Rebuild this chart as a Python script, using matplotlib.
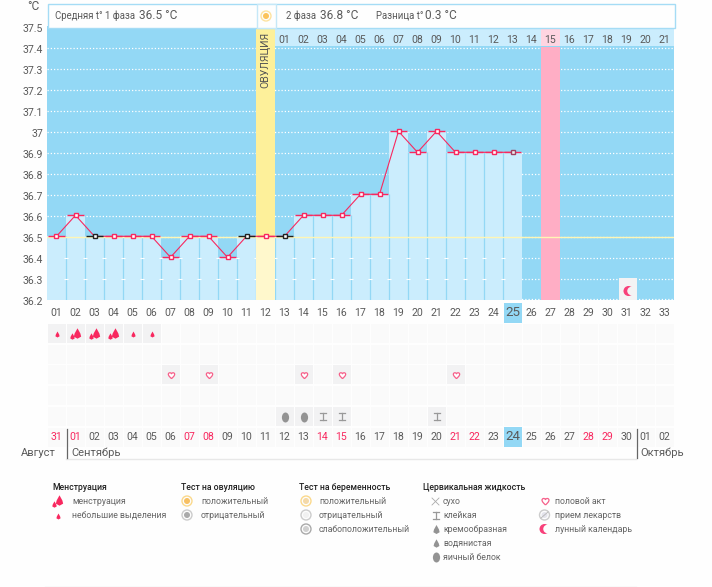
import numpy as np
import matplotlib
matplotlib.use('Agg')
import matplotlib.pyplot as plt
from matplotlib.patches import Rectangle, Circle
from matplotlib.path import Path
from matplotlib.transforms import Affine2D

plt.rcParams['font.family'] = ['Roboto', 'DejaVu Sans']

# chart values
temps = [36.5, 36.6, 36.5, 36.5, 36.5, 36.5, 36.4, 36.5, 36.5, 36.4, 36.5, 36.5, 36.5,
         36.6, 36.6, 36.6, 36.7, 36.7, 37.0, 36.9, 37.0, 36.9, 36.9, 36.9, 36.9]
days = np.arange(1, len(temps) + 1)
black_days = [3, 11, 13]
gray_days = [25]
y_ticks = [36.2, 36.3, 36.4, 36.5, 36.6, 36.7, 36.8, 36.9, 37.0, 37.1, 37.2, 37.3, 37.4, 37.5]
y_labels = ['36.2', '36.3', '36.4', '36.5', '36.6', '36.7', '36.8', '36.9', '37', '37.1',
            '37.2', '37.3', '37.4', '37.5']
ovulation_day = 12
period_day = 27
today = 25
phase2_labels = ['%02d' % d for d in range(1, 22)]
cycle_labels = ['%02d' % d for d in range(1, 34)]
date_labels = ['31'] + ['%02d' % d for d in range(1, 31)] + ['01', '02']
red_dates = [1, 2, 8, 9, 15, 16, 22, 23, 29, 30]   # column index from 1

# symbol table: day -> row
heavy_days = [2, 3, 4]
light_days = [1, 5, 6]
heart_days = [7, 9, 14, 16, 22]
egg_days = [13, 14]
sticky_days = [15, 16, 21]
moon_day = 31

legend_groups = [
    (52, 'Менструация', ['менструация', 'небольшие выделения']),
    (181, 'Тест на овуляцию', ['положительный', 'отрицательный']),
    (299, 'Тест на беременность', ['положительный', 'отрицательный', 'слабоположительный']),
    (423, 'Цервикальная жидкость', ['сухо', 'клейкая', 'кремообразная', 'водянистая', 'яичный белок']),
]
legend_misc = ['половой акт', 'прием лекарств', 'лунный календарь']

TEXT = '#5a5a5a'
PINK = '#f8285f'
SKY = '#93d8f5'
PALE = '#cbedfd'

W, H = 712, 587
fig = plt.figure(figsize=(W / 100, H / 100), dpi=100, facecolor='#fefefe')

# main axes: 33 columns of 19 px, 21 px per 0.1 degree
x0, x1 = 47.0, 674.0
y_top, y_bot = 26.3, 300.35
y_min = 36.195
ax = fig.add_axes([x0 / W, 1 - y_bot / H, (x1 - x0) / W, (y_bot - y_top) / H])
ax.set_xlim(0.5, 33.5)
ax.set_ylim(y_min, 37.5)
ax.set_facecolor(SKY)
for s in ax.spines.values():
    s.set_visible(False)
ax.set_xticks([])
ax.set_yticks([])

# grid sits one pixel below the marks
shift = 0.005
for t in y_ticks[1:-1]:
    ax.axhline(t - shift, color='white', lw=0.9, ls=(0, (1, 1.6)), zorder=1)
ax.axhline(36.2, color='white', lw=0.9, ls=(0, (1, 1.6)), zorder=1)

# temperature columns
ax.bar(days, np.array(temps) - y_min, bottom=y_min, width=1.0, color=PALE, zorder=2)
gaps = np.arange(1.5, 25)
ax.vlines(gaps, y_min, np.minimum(temps[:-1], temps[1:]), color=SKY, lw=0.9, zorder=2.5)
for t in y_ticks[1:3]:
    ax.plot(gaps, [t - shift] * len(gaps), ls='none', marker='_', ms=2.5, mew=0.8, color='white', zorder=2.6)

# ovulation and cycle-day stripes
ax.bar(ovulation_day, 37.5 - y_min, bottom=y_min, width=0.95, color='#fdf09a', zorder=3)
ax.bar(ovulation_day, 36.5 - y_min, bottom=y_min, width=0.95, color='#fff8cc', zorder=3.1)
ax.bar(period_day, 37.4 - y_min, bottom=y_min, width=0.95, color='#ffaec5', zorder=3)

# 36.5 line in pale yellow
ax.axhline(36.5 - shift, color='#fff6b5', lw=1, zorder=3.5)

# phase 2 numbers row
ax.bar(np.arange(13, 34), 0.096, bottom=37.404, width=0.95, color=PALE, zorder=2)
ax.bar(period_day, 0.096, bottom=37.404, width=0.95, color='#ffd5e1', zorder=3)
for i, lab in enumerate(phase2_labels):
    ax.text(13 + i, 37.437, lab, ha='center', va='center', fontsize=7.6, color=TEXT, zorder=6)

ax.text(ovulation_day, 37.341, 'ОВУЛЯЦИЯ', rotation=90, ha='center', va='center',
        fontsize=7.6, color='#555555', zorder=6)

# temperature line and markers
ax.plot(days, temps, color=PINK, lw=0.8, zorder=5)
for d, t in zip(days, temps):
    dash = '#222222' if d in black_days else PINK
    edge = '#a04060' if d in gray_days else dash
    face = '#eeeeee' if d in gray_days else 'white'
    ax.hlines(t, d - 0.45, d + 0.45, color=dash, lw=1.0, zorder=5.2)
    ax.plot([d], [t], 's', ms=3.4, mfc=face, mec=edge, mew=1.0, zorder=5.5)

# moon cell on the chart
ax.bar(moon_day + 0.08, 36.3 - y_min, bottom=y_min, width=0.95, color='#f4f3f4', zorder=3)

# overlay in pixels for everything around the plot
ov = fig.add_axes([0, 0, 1, 1], zorder=10)
ov.set_xlim(0, W)
ov.set_ylim(H, 0)
ov.axis('off')


def col_x(d):
    return x0 + 19 * (d - 0.5)


drop = Path([(0, 1), (0.55, 0), (0.7, -0.6), (0, -1), (-0.7, -0.6), (-0.55, 0), (0, 1)],
            [1, 2, 2, 2, 2, 2, 79])
egg = Path.unit_circle().transformed(Affine2D().scale(0.72, 1))
heart = Path([(0, -1), (-0.5, -0.5), (-1, -0.1), (-1, 0.4), (-1, 0.9), (-0.3, 1.1), (0, 0.55),
              (0.3, 1.1), (1, 0.9), (1, 0.4), (1, -0.1), (0.5, -0.5), (0, -1)],
             [1, 4, 4, 4, 4, 4, 4, 4, 4, 4, 4, 4, 4])


def draw_drop(x, y, size=4.3, color=PINK):
    ov.plot([x], [y], marker=drop, ms=size, color=color, mew=0, zorder=12)


def draw_heavy(x, y):
    draw_drop(x + 1, y - 1, 7.5)
    draw_drop(x - 3.3, y + 2.5, 4.6)


def draw_heart(x, y, size=5):
    ov.plot([x], [y], marker=heart, ms=size, mfc='white', mec='#f6608a', mew=0.9, zorder=12)


def draw_sticky(x, y):
    ov.plot([x - 3, x + 3], [y - 3.5, y - 3.5], color='#999999', lw=0.9, zorder=12)
    ov.plot([x - 3, x + 3], [y + 3.5, y + 3.5], color='#999999', lw=0.9, zorder=12)
    ov.plot([x, x], [y - 3.5, y + 3.5], color='#999999', lw=0.9, zorder=12)


def draw_egg(x, y, size=7.2):
    ov.plot([x], [y], marker=egg, ms=size, color='#939393', mew=0, zorder=12)


def draw_moon(x, y, r=5, bg='#f4f3f4'):
    ov.add_patch(Circle((x, y), r, fc='#f8407a', ec='none', zorder=12))
    ov.add_patch(Circle((x + r * 0.6, y), r * 0.85, fc=bg, ec='none', zorder=12.5))


def draw_target(x, y, outer, inner, r=5):
    ov.add_patch(Circle((x, y), r, fc='#fdfdfd', ec=outer, lw=1, zorder=12))
    ov.add_patch(Circle((x, y), r * 0.6, fc=inner, ec='none', zorder=12.5))


# y labels and unit
for t, lab in zip(y_ticks, y_labels):
    py = 300.3 - (t - 36.2) * 210 + 2
    ov.text(43, py, lab, ha='right', va='center', fontsize=7.6, color=TEXT)
ov.text(40, 7, '°C', ha='right', va='center', fontsize=8.6, color=TEXT)

# top info strip
ov.add_patch(Rectangle((47.5, 3.5), 627, 24, fc='#fefefe', ec='#a5dcf5', lw=1, zorder=2))
ov.add_patch(Rectangle((256.5, 3.5), 19, 24, fc='#fefefe', ec='#c5e8f8', lw=1, zorder=3))
draw_target(266, 16, '#fde3a0', '#fbc35c', 5)
ov.text(55, 16, 'Средняя t° 1 фаза', ha='left', va='center', fontsize=6.9, color=TEXT, zorder=4)
ov.text(139, 15.5, '36.5 °C', ha='left', va='center', fontsize=8.6, color=TEXT, zorder=4)
ov.text(286, 16, '2 фаза', ha='left', va='center', fontsize=6.9, color=TEXT, zorder=4)
ov.text(320, 15.5, '36.8 °C', ha='left', va='center', fontsize=8.6, color=TEXT, zorder=4)
ov.text(376.5, 16, 'Разница t°', ha='left', va='center', fontsize=6.9, color=TEXT, zorder=4)
ov.text(425, 15.5, '0.3 °C', ha='left', va='center', fontsize=8.6, color=TEXT, zorder=4)

# cycle day row
for i, lab in enumerate(cycle_labels):
    d = i + 1
    if d == today:
        ov.add_patch(Rectangle((col_x(d) - 9, 303), 18, 20, fc=SKY, ec='none', zorder=2))
    ov.text(col_x(d), 313, lab, ha='center', va='center', color=TEXT,
            fontsize=9.6 if d == today else 7.6, zorder=4)

# symbol table cells
row_tops = [324, 344.7, 365, 386, 407]
row_h = 19
for r in row_tops:
    for d in range(1, 34):
        ov.add_patch(Rectangle((col_x(d) - 9, r), 18, row_h, fc='#fafafa', ec='none', zorder=2))


def mark_cell(d, r):
    ov.add_patch(Rectangle((col_x(d) - 9, row_tops[r]), 18, row_h, fc='#f2f2f3', ec='none', zorder=3))
    return col_x(d), row_tops[r] + row_h / 2


for d in heavy_days:
    px, py = mark_cell(d, 0)
    draw_heavy(px, py)
for d in light_days:
    px, py = mark_cell(d, 0)
    draw_drop(px, py)
for d in heart_days:
    px, py = mark_cell(d, 2)
    draw_heart(px, py)
for d in egg_days:
    px, py = mark_cell(d, 4)
    draw_egg(px, py)
for d in sticky_days:
    px, py = mark_cell(d, 4)
    draw_sticky(px, py)

# moon over the chart cell
draw_moon(628.5, 291, 5)

# calendar row
for i, lab in enumerate(date_labels):
    d = i + 1
    if d == today:
        ov.add_patch(Rectangle((col_x(d) - 9, 427), 18, 19.5, fc=SKY, ec='none', zorder=2))
    else:
        ov.add_patch(Rectangle((col_x(d) - 9, 428), 18, 19, fc='#fafafa', ec='none', zorder=1.5))
    ov.text(col_x(d), 437.5 if d != today else 436, lab, ha='center', va='center',
            color=PINK if d in red_dates else TEXT,
            fontsize=9.6 if d == today else 7.6, zorder=4)

# month marks
ov.plot([66.5, 66.5], [429, 458], color='#666666', lw=0.9)
ov.plot([636.5, 636.5], [429, 458], color='#666666', lw=0.9)
ov.plot([66, 636], [458.5, 458.5], color='#e8e8e8', lw=1, zorder=1)
ov.text(56, 453, 'Август', ha='right', va='center', fontsize=8.0, color=TEXT)
ov.text(71, 453, 'Сентябрь', ha='left', va='center', fontsize=8.0, color=TEXT)
ov.text(640, 453, 'Октябрь', ha='left', va='center', fontsize=8.0, color=TEXT)

# legend
LEG = '#666666'
FS = 6.35
for gx, title, items in legend_groups:
    ov.text(gx, 487, title, ha='left', va='center', fontsize=6.2, color='#222222', weight='medium')
row_y = [501, 515, 529, 543, 557]
for y, lab in zip(row_y, legend_groups[0][2]):
    ov.text(72, y, lab, ha='left', va='center', fontsize=FS, color=LEG)
draw_heavy(57.5, 501)
draw_drop(57.5, 515.5)
for y, lab in zip(row_y, legend_groups[1][2]):
    ov.text(201, y, lab, ha='left', va='center', fontsize=FS, color=LEG)
draw_target(187, 501, '#fbd98c', '#f7c063')
draw_target(187, 515, '#cccccc', '#aaaaaa')
for y, lab in zip(row_y, legend_groups[2][2]):
    ov.text(319, y, lab, ha='left', va='center', fontsize=FS, color=LEG)
draw_target(306, 501, '#fbd98c', '#f4d9a8')
draw_target(306, 515, '#cccccc', '#f1f1f1')
draw_target(306, 529, '#aaaaaa', '#d0d0d0')
for y, lab in zip(row_y, legend_groups[3][2]):
    ov.text(443, y, lab, ha='left', va='center', fontsize=FS, color=LEG)
ov.plot([432, 439], [498, 505], color='#aaaaaa', lw=0.6)
ov.plot([432, 439], [505, 498], color='#aaaaaa', lw=0.6)
draw_sticky(435.5, 515)
draw_drop(435.5, 529, 6.5, '#939393')
draw_drop(435.5, 543, 6.0, '#939393')
draw_egg(435.5, 557)
for y, lab in zip(row_y, legend_misc):
    ov.text(555, y, lab, ha='left', va='center', fontsize=FS, color=LEG)
draw_heart(544.5, 501, 5.5)
draw_target(544.5, 515, '#cccccc', '#e4e4ec')
ov.plot([541, 548], [518, 512], color='#bbbbbb', lw=0.7, zorder=13)
draw_moon(544.5, 529, 5, '#fefefe')
ov.plot([45, 636], [586.5, 586.5], color='#e8e8e8', lw=1)

fig.savefig('out.png', dpi=100, facecolor=fig.get_facecolor())
